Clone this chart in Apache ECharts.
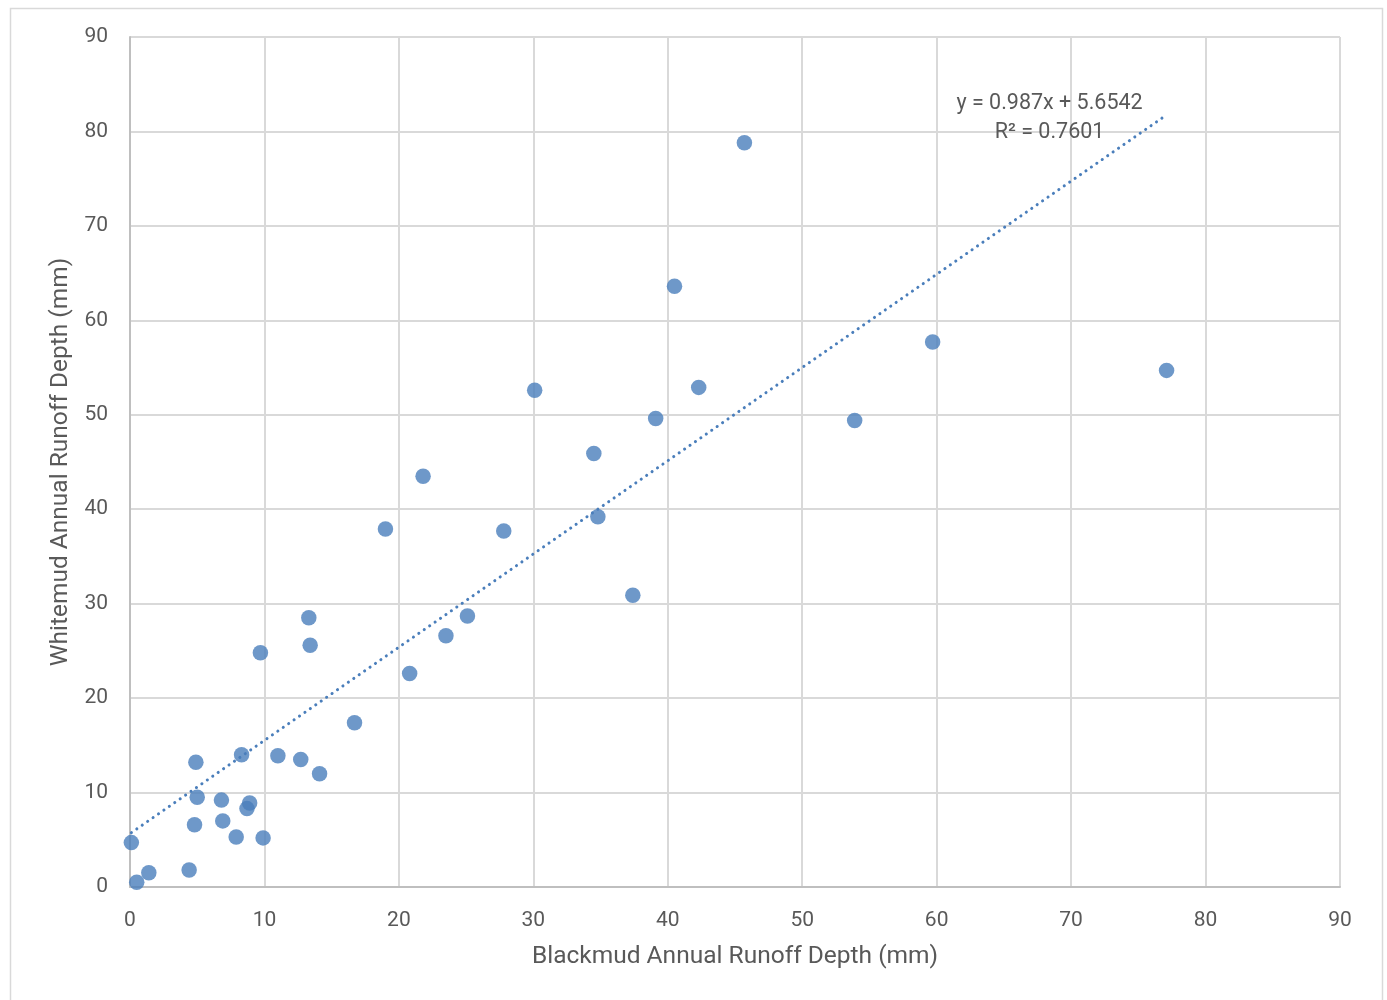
<!DOCTYPE html>
<html>
<head>
<meta charset="utf-8">
<script src="https://cdn.jsdelivr.net/npm/echarts@6/dist/echarts.min.js"></script>
<style>
html,body{margin:0;padding:0;background:#fff;}
#chart{width:1387px;height:1000px;}
</style>
</head>
<body>
<div id="chart"></div>
<script>
// Blackmud (x) vs Whitemud (y) annual runoff depth, mm
const blackmud = [0.1, 0.5, 1.4, 4.4, 4.9, 5.0, 4.8, 6.8, 6.9, 7.9, 8.3, 8.7, 8.9, 9.7, 9.9, 11.0, 12.7, 13.3, 13.4, 14.1, 16.7, 19.0, 20.8, 21.8, 23.5, 25.1, 27.8, 30.1, 34.5, 34.8, 37.4, 39.1, 40.5, 42.3, 45.7, 53.9, 59.7, 77.1];
const whitemud = [4.7, 0.5, 1.5, 1.8, 13.2, 9.5, 6.6, 9.2, 7.0, 5.3, 14.0, 8.3, 8.9, 24.8, 5.2, 13.9, 13.5, 28.5, 25.6, 12.0, 17.4, 37.9, 22.6, 43.5, 26.6, 28.7, 37.7, 52.6, 45.9, 39.2, 30.9, 49.6, 63.6, 52.9, 78.8, 49.4, 57.7, 54.7];
const trendSlope = 0.987;
const trendIntercept = 5.6542;
const trendLabel = ['y = 0.987x + 5.6542', 'R² = 0.7601'];
const xAxisTitle = 'Blackmud Annual Runoff Depth (mm)';
const yAxisTitle = 'Whitemud Annual Runoff Depth (mm)';

const points = blackmud.map((x, i) => [x, whitemud[i]]);
const xMin = Math.min(...blackmud), xMax = Math.max(...blackmud);
const trend = [[xMin, trendSlope * xMin + trendIntercept], [xMax, trendSlope * xMax + trendIntercept]];

const chart = echarts.init(document.getElementById('chart'), null, {renderer: 'canvas'});
const font = 'Roboto, "Noto Sans", sans-serif';
chart.setOption({
  animation: false,
  backgroundColor: '#fff',
  graphic: [{
    type: 'rect', silent: true,
    shape: {x: 10.5, y: 8.5, width: 1372, height: 1010},
    style: {fill: 'none', stroke: '#d9d9d9', lineWidth: 1.5}
  }],
  grid: {left: 130, right: 47, top: 37, bottom: 113},
  xAxis: {
    type: 'value', min: 0, max: 90, interval: 10,
    name: xAxisTitle, nameLocation: 'middle', nameGap: 57,
    nameTextStyle: {fontFamily: font, fontSize: 24.5, color: '#595959'},
    axisLine: {show: true, lineStyle: {color: '#bfbfbf', width: 2}},
    axisTick: {show: false},
    axisLabel: {fontFamily: font, fontSize: 21, color: '#595959', margin: 23},
    splitLine: {show: true, lineStyle: {color: '#d9d9d9', width: 2}}
  },
  yAxis: {
    type: 'value', min: 0, max: 90, interval: 10,
    name: yAxisTitle, nameLocation: 'middle', nameGap: 57,
    nameTextStyle: {fontFamily: font, fontSize: 24.5, color: '#595959'},
    axisLine: {show: true, lineStyle: {color: '#bfbfbf', width: 2}},
    axisTick: {show: false},
    axisLabel: {fontFamily: font, fontSize: 21, color: '#595959', margin: 22, padding: [4, 0, 0, 0]},
    splitLine: {show: true, lineStyle: {color: '#d9d9d9', width: 2}}
  },
  series: [{
    type: 'line', data: trend, symbol: 'none', silent: true, z: 1,
    lineStyle: {color: '#4a7ebb', width: 3, type: [0.1, 6.5], cap: 'round'},
    endLabel: {
      show: true, formatter: trendLabel.join('\n'),
      fontFamily: font, fontSize: 21.5, color: '#595959', lineHeight: 29,
      align: 'center', offset: [-125, 3]
    }
  }, {
    type: 'scatter', data: points, symbol: 'circle', symbolSize: 15.5, z: 3,
    itemStyle: {color: '#4a7ebb'}
  }]
});
</script>
</body>
</html>
